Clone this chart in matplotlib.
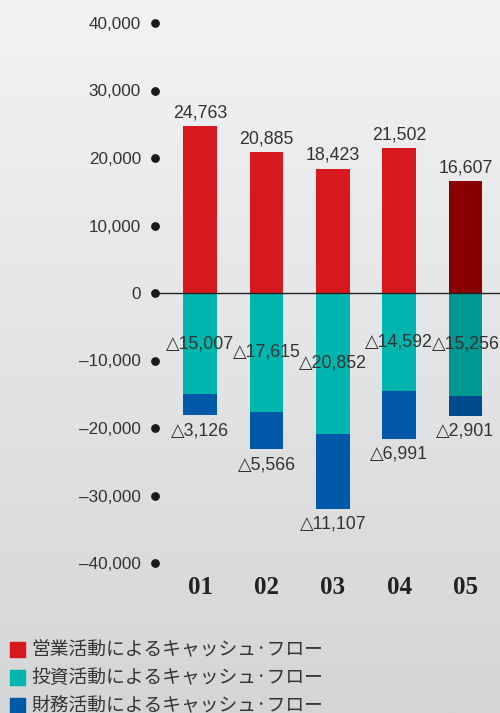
import numpy as np
import matplotlib.pyplot as plt
import matplotlib.patches as mpatches

# data
years = ['01', '02', '03', '04', '05']
operating = [24763, 20885, 18423, 21502, 16607]
investing = [-15007, -17615, -20852, -14592, -15256]
financing = [-3126, -5566, -11107, -6991, -2901]
yticks = [40000, 30000, 20000, 10000, 0, -10000, -20000, -30000, -40000]
legend_labels = ['営業活動によるキャッシュ·フロー',
                 '投資活動によるキャッシュ·フロー',
                 '財務活動によるキャッシュ·フロー']

red, teal, blue = '#d7191f', '#00b5ad', '#0058a9'
red_d, teal_d, blue_d = '#890000', '#009891', '#004a8e'
op_colors = [red] * 4 + [red_d]
inv_colors = [teal] * 4 + [teal_d]
fin_colors = [blue] * 4 + [blue_d]

num_font = ['Liberation Sans', 'DejaVu Sans']
txt = '#333333'

W, H = 500, 713
fig = plt.figure(figsize=(W / 100, H / 100), dpi=100)

# background gradient
bg = fig.add_axes([0, 0, 1, 1], zorder=-10)
grad = np.linspace(0, 1, 256).reshape(-1, 1)
top = np.array([242, 243, 244]) / 255.
bot = np.array([212, 213, 215]) / 255.
img = top + (bot - top) * grad[:, :, None]
bg.imshow(img, aspect='auto', extent=[0, 1, 0, 1])
bg.axis('off')

# main axes: left at dot (155px), top at 23px, bottom at 563px
x0 = -0.68
x1 = 4.52
ax = fig.add_axes([155 / W, (H - 563) / H, 1 - 155 / W, 540 / H])
ax.patch.set_alpha(0)
ax.set_xlim(x0, x1)
ax.set_ylim(-40000, 40000)
for s in ax.spines.values():
    s.set_visible(False)

x = np.arange(len(years))
bw = 0.51
ax.bar(x, operating, width=bw, color=op_colors, zorder=2)
ax.bar(x, investing, width=bw, color=inv_colors, zorder=2)
ax.bar(x, financing, width=bw, bottom=investing, color=fin_colors, zorder=2)

ax.plot([x0, x1], [0, 0], color='#222222', lw=1.0, zorder=3, clip_on=False)
ax.scatter([x0] * len(yticks), yticks, s=28, color='#1a1a1a', zorder=4, clip_on=False)

ax.set_yticks(yticks)
ax.set_yticklabels([f'{v:,}'.replace('-', '–') for v in yticks],
                   family=num_font, fontsize=12.3, color=txt)
ax.tick_params(axis='y', length=0, pad=10)
ax.set_xticks([])

lab_fs = 12.8
for i, yr in enumerate(years):
    ax.annotate(yr, (x[i], -40000), xytext=(0, -18), textcoords='offset points',
                ha='center', va='center', family='Liberation Serif', weight='bold',
                fontsize=18, color='#222222', annotation_clip=False)
    ax.annotate(f'{operating[i]:,}', (x[i], operating[i]), xytext=(0, 9.5),
                textcoords='offset points', ha='center', va='center',
                family=num_font, fontsize=lab_fs, color=txt)
    ax.annotate(f'△{-investing[i]:,}', (x[i], investing[i] / 2), xytext=(0, 0),
                textcoords='offset points', ha='center', va='center',
                family=num_font, fontsize=lab_fs, color=txt)
    ax.annotate(f'△{-financing[i]:,}', (x[i], investing[i] + financing[i]),
                xytext=(0, -11), textcoords='offset points', ha='center',
                va='center', family=num_font, fontsize=lab_fs, color=txt)

# legend
for j, (lab, c) in enumerate(zip(legend_labels, [red, teal, blue])):
    yc = 649 + j * 28
    fig.patches.append(mpatches.Rectangle((10 / W, (H - yc - 7.5) / H), 15 / W, 15 / H,
                                          transform=fig.transFigure, color=c))
    fig.text(31 / W, (H - yc) / H, lab, family=['Noto Sans CJK JP', 'DejaVu Sans'],
             fontsize=13.5, color=txt, va='center', ha='left')

fig.savefig('out.png', dpi=100)
